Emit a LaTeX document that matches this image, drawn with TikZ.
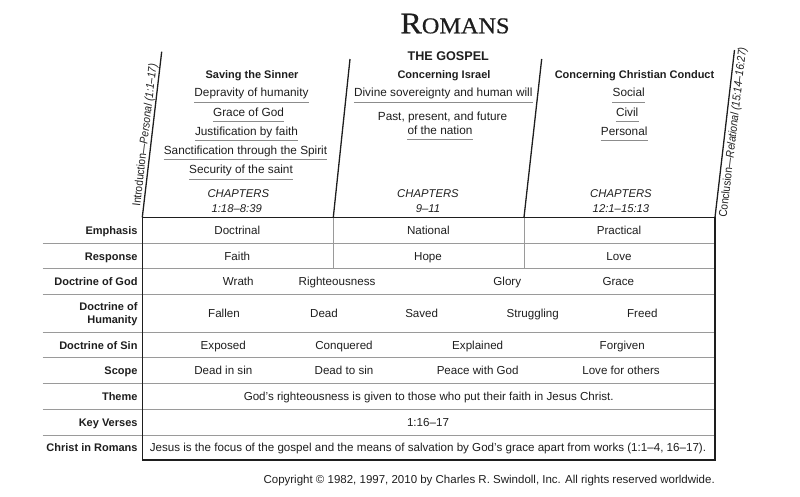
\documentclass[tikz,border=0pt]{standalone}
\usepackage{fontspec}
\setmainfont{Liberation Sans}
\newfontfamily\titlefont[FakeStretch=1.07,FakeBold=0.6]{Liberation Serif}
\newfontfamily\condfont[FakeStretch=0.88]{Liberation Sans}
\usetikzlibrary{calc}
\definecolor{linegray}{HTML}{9A9A9A}
\definecolor{ulgray}{HTML}{8C8C8C}
\definecolor{ink}{HTML}{1E1E1E}
\begin{document}
\begin{tikzpicture}[x=1pt,y=-1pt,
  txt/.style={font=\fontsize{11.6}{13.5}\selectfont, text=ink, inner sep=0pt, anchor=base},
  htxt/.style={txt, font=\fontsize{11.8}{13.5}\selectfont},
  itl/.style={txt, font=\fontsize{11.3}{13.5}\selectfont\itshape},
  hdr/.style={font=\fontsize{11}{13}\selectfont\bfseries, text=ink, inner sep=0pt, anchor=base},
  lbl/.style={font=\fontsize{11}{12.7}\selectfont\bfseries, text=ink, inner sep=0pt, anchor=base east},
  lbltwo/.style={font=\fontsize{11}{12.7}\selectfont\bfseries, text=ink, inner sep=0pt, anchor=east, align=right},
  rot/.style={font=\condfont\fontsize{11.5}{13}\selectfont, text=ink, inner sep=0pt, anchor=center, rotate=83.4},
  uline/.style={draw=ulgray, line width=1pt},
  rowline/.style={draw=linegray, line width=1pt},
  border/.style={draw=ink, line width=1.6pt},
  slant/.style={draw=ink, line width=1.3pt}
]
\useasboundingbox (0,0) rectangle (800,496);

% title
\node[inner sep=0pt, anchor=base, text=ink] (title) at (455,33.3)
  {\titlefont\fontsize{30}{30}\selectfont R\fontsize{22.7}{30}\selectfont OMANS};
\node[hdr, font=\fontsize{12.6}{14}\selectfont\bfseries] (gospel) at (448.3,60) {THE GOSPEL};

% slanted dividers
\coordinate (L1t) at (161.7,51.7); \coordinate (L1b) at (142.3,217.3);
\coordinate (L2t) at (350,59);     \coordinate (L2b) at (333.3,217.3);
\coordinate (L3t) at (541.7,59);   \coordinate (L3b) at (524,217.3);
\coordinate (L4t) at (734.5,50);   \coordinate (L4b) at (715,217.3);
\draw[slant] (L1t) -- (L1b);
\draw[slant] (L2t) -- (L2b);
\draw[slant] (L3t) -- (L3b);
\draw[slant] (L4t) -- (L4b);

% side texts
\node[rot] (intro) at (145.5,135) {Introduction—{\itshape Personal (1:1–17)}};
\node[rot] (concl) at (733.5,132.5) {Conclusion—{\itshape Relational (15:14–16:27)}};

% column 1
\node[hdr] (h1) at (252,78.5) {Saving the Sinner};
\node[htxt] (a1) at (251.5,96.7) {Depravity of humanity};
\node[htxt] (a2) at (248.5,116) {Grace of God};
\node[htxt] (a3) at (246.5,135) {Justification by faith};
\node[htxt] (a4) at (245.5,154.3) {Sanctification through the Spirit};
\node[htxt] (a5) at (241,173.7) {Security of the saint};
\node[itl] (c1) at (238.3,197) {CHAPTERS};
\node[itl] (c1b) at (236.7,212) {1:18–8:39};

% column 2
\node[hdr] (h2) at (444,78.5) {Concerning Israel};
\node[htxt] (b1) at (443.3,96.7) {Divine sovereignty and human will};
\node[htxt] (b2) at (442.5,120.7) {Past, present, and future};
\node[htxt] (b3) at (440,134.3) {of the nation};
\node[itl] (c2) at (428,197) {CHAPTERS};
\node[itl] (c2b) at (428,212) {9–11};

% column 3
\node[hdr] (h3) at (634.5,78.5) {Concerning Christian Conduct};
\node[htxt] (s1) at (628.7,96.7) {Social};
\node[htxt] (s2) at (627.2,116) {Civil};
\node[htxt] (s3) at (624.2,135) {Personal};
\node[itl] (c3) at (621,197) {CHAPTERS};
\node[itl] (c3b) at (621,212) {12:1–15:13};

% underlines
\foreach \n in {a1,a2,a3,a4,a5,b1,b3,s1,s2,s3}
  \draw[uline] ($(\n.base west)+(0,5.3)$) -- ($(\n.base east)+(0,5.3)$);

% table grid
\foreach \yy in {243.3,268.7,294,332.3,357.7,383.3,409.3,435}
  \draw[rowline] (42.7,\yy) -- (715,\yy);
\draw[rowline] (333.3,217.3) -- (333.3,268.7);
\draw[rowline] (524,217.3) -- (524,268.7);
\draw[border] (142.3,217.3) -- (715,217.3);
\draw[border] (142.3,460) -- (715,460);
\draw[border] (142.3,216.5) -- (142.3,460.8);
\draw[border] (715,216.5) -- (715,460.8);

% row labels
\node[lbl] (r1) at (137.7,234.3) {Emphasis};
\node[lbl] (r2) at (137.7,260) {Response};
\node[lbl] (r3) at (137.7,285.3) {Doctrine of God};
\node[lbltwo] (r4) at (137.7,314) {Doctrine of\\Humanity};
\node[lbl] (r5) at (137.7,349) {Doctrine of Sin};
\node[lbl] (r6) at (137.7,374.5) {Scope};
\node[lbl] (r7) at (137.7,400.3) {Theme};
\node[lbl] (r8) at (137.7,426) {Key Verses};
\node[lbl] (r9) at (137.7,451.5) {Christ in Romans};

% row contents
\node[txt] (e1) at (237.3,234.3) {Doctrinal};
\node[txt] (e2) at (428.3,234.3) {National};
\node[txt] (e3) at (619,234.3) {Practical};

\node[txt] (f1) at (237.3,260) {Faith};
\node[txt] (f2) at (428,260) {Hope};
\node[txt] (f3) at (619,260) {Love};

\node[txt] (g1) at (238.3,285.3) {Wrath};
\node[txt] (g2) at (337,285.3) {Righteousness};
\node[txt] (g3) at (507.3,285.3) {Glory};
\node[txt] (g4) at (618.3,285.3) {Grace};

\node[txt] (m1) at (224,317) {Fallen};
\node[txt] (m2) at (324,317) {Dead};
\node[txt] (m3) at (421.7,317) {Saved};
\node[txt] (m4) at (532.7,317) {Struggling};
\node[txt] (m5) at (642.3,317) {Freed};

\node[txt] (x1) at (223.3,349) {Exposed};
\node[txt] (x2) at (344,349) {Conquered};
\node[txt] (x3) at (477.7,349) {Explained};
\node[txt] (x4) at (622.3,349) {Forgiven};

\node[txt] (p1) at (223.3,374.5) {Dead in sin};
\node[txt] (p2) at (344,374.5) {Dead to sin};
\node[txt] (p3) at (477.7,374.5) {Peace with God};
\node[txt] (p4) at (621,374.5) {Love for others};

\node[txt] (t1) at (428.7,400.3) {God’s righteousness is given to those who put their faith in Jesus Christ.};
\node[txt] (k1) at (428,426) {1:16–17};
\node[txt] (j1) at (428,451.5) {Jesus is the focus of the gospel and the means of salvation by God’s grace apart from works (1:1–4, 16–17).};

% copyright
\node[inner sep=0pt, anchor=base east, text=ink, font=\fontsize{11.5}{13}\selectfont] (copy) at (715,483)
  {Copyright © 1982, 1997, 2010 by Charles R. Swindoll, Inc. All rights reserved worldwide.};
\end{tikzpicture}
\end{document}
